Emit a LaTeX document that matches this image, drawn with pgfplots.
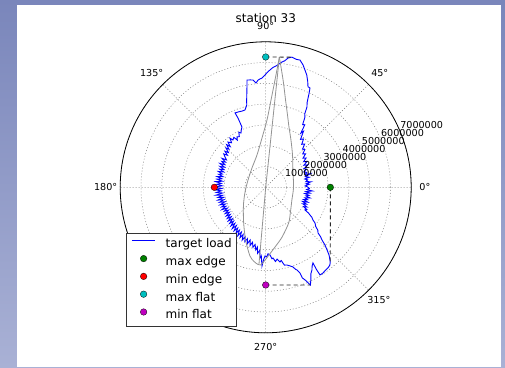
\documentclass[border=0pt]{standalone}
\usepackage{pgfplots}
\pgfplotsset{compat=1.18}
\usepgfplotslibrary{polar}
\usepackage{fontspec}
\setmainfont{DejaVu Sans}
\definecolor{bgtop}{HTML}{7A86BB}
\definecolor{bgbot}{HTML}{A9B1D5}
\definecolor{mplgreen}{rgb}{0,0.5,0}
\definecolor{mplcyan}{rgb}{0,0.75,0.75}
\definecolor{mplmag}{rgb}{0.75,0,0.75}
\newcommand{\tickfont}{\fontsize{9.6}{11}\selectfont}
\pgfplotsset{
  mlegend/.style={legend image code/.code={\path[draw=none] (0pt,3.5pt) -- (23.3pt,3.5pt); \draw[##1] plot coordinates {(11.65pt,3.5pt)};}},
  lineleg/.style={legend image code/.code={\draw[##1] (0pt,3.5pt) -- (23.3pt,3.5pt);}}
}
\begin{document}
\begin{tikzpicture}[x=1pt,y=1pt]
\shade[top color=bgtop,bottom color=bgbot] (0,0) rectangle (505,367);
\fill[white] (17,0) rectangle (501,362);
\begin{polaraxis}[
  at={(265.7pt,179.7pt)}, anchor=center,
  scale only axis, width=291pt, height=291pt,
  xmin=0, xmax=360, ymin=0, ymax=7e6,
  xtick={0,45,90,135,180,225,270,315}, xticklabels={},
  ytick={1e6,2e6,3e6,4e6,5e6,6e6,7e6}, yticklabels={},
  scaled y ticks=false,
  major tick length=0pt,
  xmajorgrids, ymajorgrids,
  major grid style={black!50, line width=0.5pt, dash pattern=on 1pt off 2pt},
  axis line style={black, line width=0.8pt},
  y axis line style={draw=none},
  clip=false,
  legend cell align=left,
  legend style={name=leg, at={(0.021,0.021)}, anchor=south west, draw=none,
    fill=white, inner xsep=5pt, inner ysep=4.5pt, row sep=4.5pt, column sep=10pt,
    font=\fontsize{12}{14}\selectfont,
    nodes={inner sep=0pt, text height=10pt, text depth=3pt}},
]
\addplot[blue, line width=0.9pt, lineleg] coordinates {
(0,2.05e6) (2,1.90e6) (4,2.10e6) (5,1.95e6) (7,2.20e6) (8,1.95e6) (10,2.05e6) (12,1.92e6) (13,2.15e6) (15,1.98e6) (17,2.25e6) (18,2.00e6) (20,2.10e6) (22,1.98e6) (24,2.15e6) (26,2.05e6) (28,2.30e6) (30,2.12e6) (32,2.35e6) (34,2.20e6) (36,2.40e6) (38,2.28e6) (40,2.50e6) (42,2.40e6) (44,2.62e6) (46,2.55e6) (48,2.80e6) (50,2.70e6) (52,2.95e6) (54,2.85e6) (56,3.25e6) (57,3.10e6) (58,3.55e6) (59.5,3.50e6) (60.8,3.87e6) (62,4.00e6) (62.8,4.34e6) (64,4.55e6) (65.2,4.97e6) (65.95,5.23e6) (67.2,5.25e6) (68.3,5.47e6) (69.9,5.75e6) (71.5,5.95e6) (73,6.15e6) (74.9,6.34e6) (76.5,6.33e6) (78.6,6.39e6) (80.2,6.31e6) (81.5,6.15e6) (82.6,6.08e6) (84,5.95e6) (85.1,5.86e6) (86.5,5.78e6) (87.9,5.65e6) (89,5.55e6) (90.4,5.40e6) (91.9,5.26e6) (93,5.22e6) (94.1,5.17e6) (95.3,5.04e6) (96.75,5.20e6) (98.3,5.22e6) (99.9,5.24e6) (100.6,4.90e6) (101.6,4.53e6) (102.3,4.30e6) (103,4.06e6) (104,3.95e6) (105,3.85e6) (107.5,3.84e6) (110.2,3.86e6) (112.4,3.87e6) (111.8,3.59e6) (111.5,3.12e6) (113,3.00e6) (114.5,2.87e6) (116,2.95e6) (117.5,2.75e6) (119.7,2.79e6) (121,2.65e6) (122.5,2.85e6) (124.7,2.77e6) (126,2.92e6) (127.5,2.70e6) (129.8,2.83e6) (131,2.60e6) (132.5,2.78e6) (134,2.55e6) (135.3,2.69e6) (137,2.45e6) (138.5,2.62e6) (140,2.40e6) (141.5,2.58e6) (143.3,2.44e6) (145,2.30e6) (146.5,2.52e6) (148,2.28e6) (149.5,2.45e6) (151,2.25e6) (152.5,2.48e6) (154,2.20e6) (155.5,2.42e6) (157,2.18e6) (158.5,2.38e6) (160,2.15e6) (161.5,2.40e6) (163,2.18e6) (164.5,2.35e6) (166,2.12e6) (167.5,2.40e6) (169,2.15e6) (170.5,2.38e6) (172,2.10e6) (173.5,2.42e6) (175,2.15e6) (176.5,2.35e6) (178,2.10e6) (180,2.47e6) (181.5,2.12e6) (183,2.40e6) (184.5,2.15e6) (186,2.38e6) (187.5,2.10e6) (189,2.42e6) (190.5,2.12e6) (192,2.35e6) (193.5,2.08e6) (195,2.38e6) (196.5,2.10e6) (198,2.33e6) (199.5,2.08e6) (201,2.35e6) (202.5,2.10e6) (204,2.32e6) (205.5,2.12e6) (207,2.36e6) (208.5,2.10e6) (210,2.30e6) (211.5,2.10e6) (213,2.32e6) (214.5,2.12e6) (216,2.35e6) (217.5,2.15e6) (219,2.38e6) (220.5,2.18e6) (222,2.42e6) (223.5,2.20e6) (225,2.45e6) (226.5,2.25e6) (228,2.50e6) (229.5,2.28e6) (231,2.55e6) (232.5,2.32e6) (234,2.58e6) (235.5,2.38e6) (237,2.62e6) (238.5,2.42e6) (240,2.68e6) (241.5,2.45e6) (243,2.72e6) (244.5,2.52e6) (246,2.78e6) (247.5,2.58e6) (249,2.80e6) (250.5,2.62e6) (252,2.85e6) (253.5,2.65e6) (255,2.90e6) (256.5,2.72e6) (258,2.95e6) (259.5,2.80e6) (261,3.05e6) (262,2.90e6) (263,3.20e6) (264.5,3.05e6) (265.5,3.40e6) (266.3,3.30e6) (267.3,3.79e6) (268.5,3.45e6) (269.5,3.30e6) (270.8,3.35e6) (272,3.20e6) (273.6,3.26e6) (275,3.45e6) (275.9,3.42e6) (277.5,3.60e6) (279,3.50e6) (280.8,3.66e6) (282,3.60e6) (283.5,3.85e6) (285.1,3.87e6) (287,3.95e6) (288.9,4.05e6) (290,4.20e6) (290.7,4.25e6) (291.8,4.44e6) (292,4.70e6) (293,4.84e6) (294.6,5.17e6) (296,4.95e6) (297.5,4.70e6) (299.2,4.56e6) (300.5,4.40e6) (302,4.29e6) (301.7,4.67e6) (301.8,4.96e6) (303.8,4.96e6) (305.5,4.92e6) (307.7,4.90e6) (309.5,4.85e6) (310.85,4.75e6) (312,4.60e6) (313.1,4.46e6) (314.4,4.22e6) (315.8,3.98e6) (316.9,3.71e6) (318,3.55e6) (318.9,3.34e6) (320.5,3.25e6) (322,3.05e6) (324.1,2.93e6) (325.5,2.75e6) (327,2.65e6) (328,2.51e6) (329,2.40e6) (330,2.18e6) (331.5,2.25e6) (333,2.05e6) (334.5,2.20e6) (336,1.95e6) (337.5,2.12e6) (339,1.90e6) (340.5,2.15e6) (342,1.92e6) (343.5,2.10e6) (345,1.95e6) (346.5,2.20e6) (348,1.98e6) (349.5,2.12e6) (351,1.90e6) (352.5,2.15e6) (354,1.95e6) (355.5,2.25e6) (357,1.98e6) (358.5,2.10e6) (360,2.05e6)
};
\addlegendentry{target load}
% gray model curve
\addplot[gray!85, line width=0.8pt, forget plot] coordinates {(84.0,6.29e6) (0,0) (265.0,3.70e6)};
\addplot[gray!85, line width=0.8pt, smooth, forget plot] coordinates {
(84.0,6.29e6) (80.8,5.23e6) (77.2,4.31e6) (73.2,3.63e6) (68.9,3.11e6) (61.9,2.58e6) (50.3,2.02e6) (32.4,1.55e6) (0.6,1.34e6) (334.2,1.40e6) (315.1,1.68e6) (302.8,2.04e6) (288.2,2.52e6) (279.2,2.89e6) (272.8,3.26e6) (268.5,3.58e6) (266.5,3.74e6)};
\addplot[gray!85, line width=0.8pt, smooth, forget plot] coordinates {
(266.5,3.74e6) (264.3,3.73e6) (261.0,3.61e6) (257.1,3.39e6) (250.2,2.80e6) (244.6,2.38e6) (235.8,1.90e6) (218.6,1.37e6) (192.8,1.02e6) (157.6,0.92e6) (125.4,1.14e6) (105.1,1.61e6) (94.3,2.38e6) (88.9,3.24e6) (86.5,4.21e6) (85.05,5.18e6) (84.0,6.29e6)};
% dashed projection lines
\addplot[black!85, line width=0.9pt, dash pattern=on 4pt off 3pt, forget plot] coordinates {(0,3.11e6) (310.85,4.75e6)};
\addplot[black!85, line width=0.9pt, dash pattern=on 4pt off 3pt, forget plot] coordinates {(270,4.70e6) (294.6,5.17e6)};
\addplot[black!85, line width=0.9pt, dash pattern=on 4pt off 3pt, forget plot] coordinates {(90,6.27e6) (78.6,6.39e6)};
% markers
\addplot[only marks, mark=*, mark size=3.3pt, mark options={fill=mplgreen, draw=black, line width=0.3pt}, mlegend] coordinates {(0,3.11e6)};
\addlegendentry{max edge}
\addplot[only marks, mark=*, mark size=3.3pt, mark options={fill=red, draw=black, line width=0.3pt}, mlegend] coordinates {(180,2.47e6)};
\addlegendentry{min edge}
\addplot[only marks, mark=*, mark size=3.3pt, mark options={fill=mplcyan, draw=black, line width=0.3pt}, mlegend] coordinates {(90,6.27e6)};
\addlegendentry{max flat}
\addplot[only marks, mark=*, mark size=3.3pt, mark options={fill=mplmag, draw=black, line width=0.3pt}, mlegend] coordinates {(270,4.70e6)};
\addlegendentry{min flat}
% angle labels
\node[font=\tickfont] at (axis cs:0,7.66e6) {0°};
\node[font=\tickfont] at (axis cs:45,7.76e6) {45°};
\node[font=\tickfont] at (axis cs:90,7.77e6) {90°};
\node[font=\tickfont] at (axis cs:135,7.76e6) {135°};
\node[font=\tickfont] at (axis cs:180,7.70e6) {180°};
\node[font=\tickfont] at (axis cs:225,7.70e6) {225°};
\node[font=\tickfont] at (axis cs:270,7.67e6) {270°};
\node[font=\tickfont] at (axis cs:315,7.70e6) {315°};
% radial labels
\node[font=\tickfont, anchor=south west, inner sep=0pt, yshift=2.3pt] at (axis cs:22.5,1e6) {1000000};
\node[font=\tickfont, anchor=south west, inner sep=0pt, yshift=2.3pt] at (axis cs:22.5,2e6) {2000000};
\node[font=\tickfont, anchor=south west, inner sep=0pt, yshift=2.3pt] at (axis cs:22.5,3e6) {3000000};
\node[font=\tickfont, anchor=south west, inner sep=0pt, yshift=2.3pt] at (axis cs:22.5,4e6) {4000000};
\node[font=\tickfont, anchor=south west, inner sep=0pt, yshift=2.3pt] at (axis cs:22.5,5e6) {5000000};
\node[font=\tickfont, anchor=south west, inner sep=0pt, yshift=2.3pt] at (axis cs:22.5,6e6) {6000000};
\node[font=\tickfont, anchor=south west, inner sep=0pt, yshift=2.3pt] at (axis cs:22.5,7e6) {7000000};
\end{polaraxis}
\draw[black!80, line width=0.8pt] (leg.south west) rectangle (leg.north east);
\node[font=\fontsize{12}{14}\selectfont] at (265.8,348.5) {station 33};
\pgfresetboundingbox
\path (0,0) rectangle (505,367);
\end{tikzpicture}
\end{document}
